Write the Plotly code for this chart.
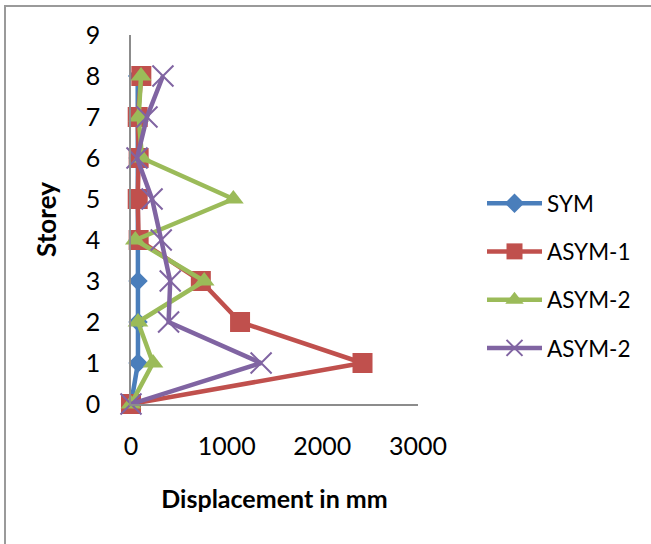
import plotly.graph_objects as go

storey = [0, 1, 2, 3, 4, 5, 6, 7, 8]
sym = [0, 73, 73, 73, 75, 70, 75, 70, 70]
asym1 = [0, 2420, 1140, 730, 80, 70, 80, 70, 108]
asym2a = [0, 230, 73, 765, 45, 1070, 115, 80, 105]
asym2b = [0, 1360, 393, 410, 316, 220, 63, 167, 334]

W, H = 651, 544
L, R, T, B = 131, 418, 35, 404  # plot area pixels

FONT = "Lato"

fig = go.Figure()
common = dict(mode="lines+markers", cliponaxis=False)
fig.add_trace(go.Scatter(x=sym, y=storey, name="SYM", legendgroup="a",
                         line=dict(color="#4A7EBB", width=4.5),
                         marker=dict(symbol="diamond", size=15, color="#4A7EBB"), **common))
fig.add_trace(go.Scatter(x=asym1, y=storey, name="ASYM-1", legendgroup="b",
                         line=dict(color="#C0504D", width=4.5),
                         marker=dict(symbol="square", size=20, color="#C0504D"), **common))
fig.add_trace(go.Scatter(x=asym2a, y=storey, name="ASYM-2", legendgroup="c",
                         line=dict(color="#9BBB59", width=4.5),
                         marker=dict(symbol="triangle-up", size=18, color="#9BBB59"), **common))
fig.add_trace(go.Scatter(x=asym2b, y=storey, name="ASYM-2", legendgroup="d",
                         line=dict(color="#8064A2", width=4.5),
                         marker=dict(symbol="x-thin", size=21, color="#8064A2",
                                     line=dict(color="#8064A2", width=2)), **common))

pw, ph = R - L, B - T
def px_x(p):
    return (p - L) / pw
def px_y(p):
    return (B - p) / ph

fig.update_layout(
    width=W, height=H,
    margin=dict(l=L, r=W - R, t=T, b=H - B, pad=0),
    paper_bgcolor="white", plot_bgcolor="white",
    font=dict(family=FONT, size=22, color="black"),
    showlegend=True,
    legend=dict(x=px_x(482), y=px_y(182), xanchor="left", yanchor="top",
                font=dict(family=FONT, size=22.5), itemwidth=55,
                tracegroupgap=16, bgcolor="rgba(0,0,0,0)"),
    xaxis=dict(range=[0, 3000], tickvals=[0, 1000, 2000, 3000],
               showline=True, linecolor="#8C8C8C", linewidth=1.5,
               showgrid=False, zeroline=False,
               ticks="outside", ticklen=19, tickcolor="rgba(0,0,0,0)",
               tickfont=dict(size=25),
               title=dict(text="<b>Displacement in mm</b>", standoff=32,
                          font=dict(size=25))),
    yaxis=dict(range=[0, 9], tickvals=list(range(10)),
               showline=True, linecolor="#8C8C8C", linewidth=1.5,
               showgrid=False, zeroline=False,
               ticks="outside", ticklen=24, tickcolor="rgba(0,0,0,0)",
               tickfont=dict(size=25),
               title=dict(text="<b>Storey</b>", standoff=22,
                          font=dict(size=26))),
    shapes=[dict(type="rect", xref="paper", yref="paper",
                 x0=px_x(5), x1=px_x(W + 20), y0=px_y(H + 20), y1=px_y(6),
                 line=dict(color="#9A9A9A", width=2), layer="below")],
)

fig.write_html("out.html")
